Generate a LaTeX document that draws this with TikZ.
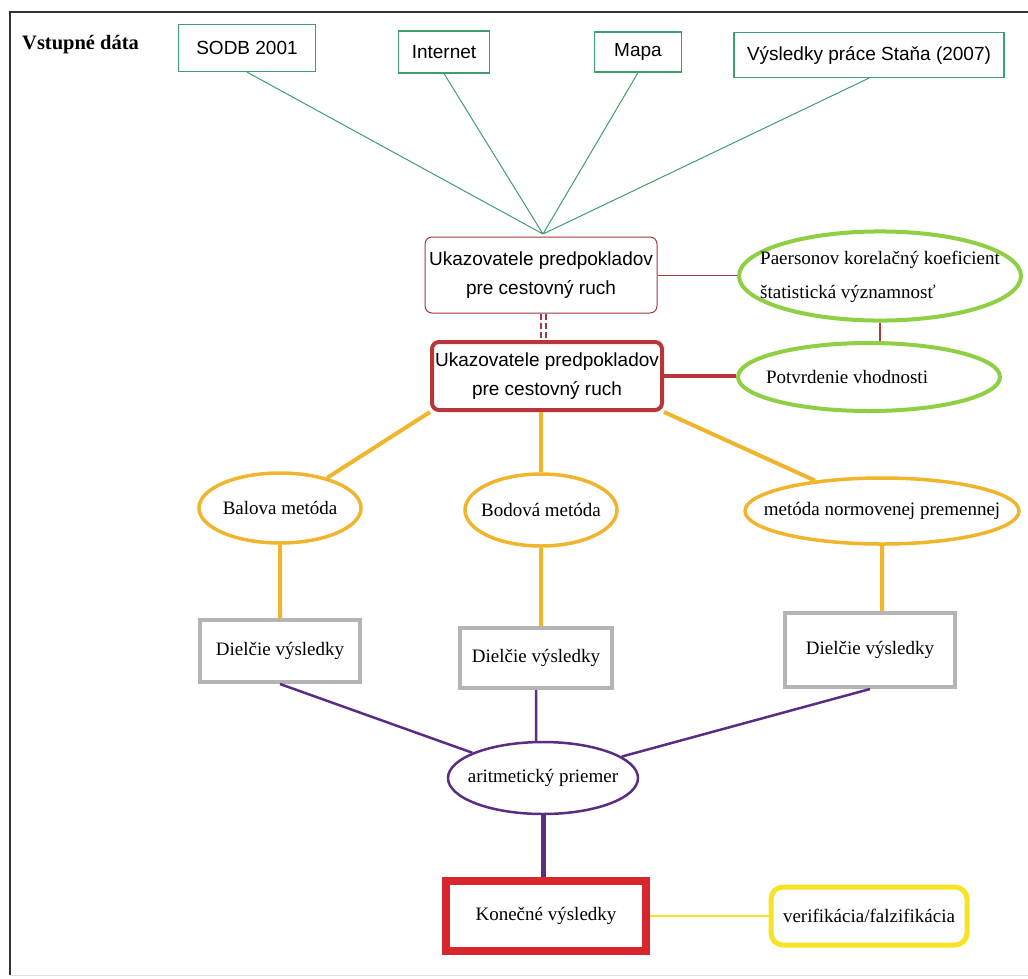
\documentclass[tikz,border=0pt]{standalone}
\usepackage{fontspec}
\setmainfont{Liberation Serif}
\setsansfont{Liberation Sans}
\usepackage{tikz}
\usetikzlibrary{shapes.geometric}
\definecolor{green600}{HTML}{3F9F6B}
\definecolor{red800}{HTML}{A23A3E}
\definecolor{red700}{HTML}{B8353A}
\definecolor{lime400}{HTML}{8FCF44}
\definecolor{amber500}{HTML}{F0B52C}
\definecolor{gray400}{HTML}{B4B4B4}
\definecolor{purple800}{HTML}{5A2D82}
\definecolor{red600}{HTML}{D8262E}
\definecolor{yellow500}{HTML}{F6E424}
\newcommand{\pismo}{\fontsize{19}{29}\selectfont}
\newcommand{\uzky}[1]{\makebox[0pt]{#1}}
\tikzstyle{zdroj}=[draw=green600, line width=1.2pt, font=\sffamily\pismo, inner sep=0pt]
\tikzstyle{ukaz}=[rounded corners=7pt, align=center, font=\sffamily\pismo, inner sep=0pt]
\tikzstyle{ovalzel}=[ellipse, draw=lime400, line width=4pt, font=\pismo, inner sep=0pt]
\tikzstyle{metoda}=[ellipse, draw=amber500, line width=3.5pt, font=\pismo, inner sep=0pt]
\tikzstyle{dielcie}=[draw=gray400, line width=4pt, font=\pismo, inner sep=0pt]

\begin{document}
\begin{tikzpicture}[x=1pt,y=-1pt]
			\useasboundingbox (0,0) rectangle (1028,978);
			% ramik
			\draw[line width=1.5pt, black!80] (10,975) -- (10,12) -- (1028,12);
			\draw[line width=1pt, black!12] (10,975) -- (1028,975);
			% vstupne data
			\node[anchor=west, font=\bfseries\fontsize{20.5}{24}\selectfont, inner sep=0pt] (vstup) at (22,45) {Vstupné dáta};
			\node[zdroj, minimum width=137pt, minimum height=47pt] (sodb) at (247,48) {SODB 2001};
			\node[zdroj, minimum width=91pt, minimum height=42pt] (internet) at (444,52) {Internet};
			\node[zdroj, minimum width=87pt, minimum height=40pt] (mapa) at (638,52) {Mapa};
			\node[zdroj, minimum width=270pt, minimum height=45pt] (stano) at (869,55) {Výsledky práce Staňa (2007)};
			\coordinate (stred) at (543,234);
			% ukazovatele
			\node[ukaz, draw=red800, line width=1pt, minimum width=232pt, minimum height=76pt] (ukaz1) at (541,275) {Ukazovatele predpokladov\\pre cestovný ruch};
			\node[ukaz, draw=red700, line width=4pt, minimum width=230pt, minimum height=68pt] (ukaz2) at (547,376) {Ukazovatele predpokladov\\pre cestovný ruch};
			\node[ovalzel, minimum width=282pt, minimum height=80pt] (pears) at (880,276) {\uzky{\begin{tabular}{@{}l@{}}Paersonov korelačný koeficient\\[5pt] štatistická významnosť\end{tabular}}};
			\node[ovalzel, minimum width=262pt, minimum height=68pt] (potv) at (869,377) {\uzky{\hspace*{-44pt}Potvrdenie vhodnosti}};
			% metody
			\node[metoda, minimum width=162pt, minimum height=70pt] (balova) at (280,508) {\uzky{Balova metóda}};
			\node[metoda, minimum width=152pt, minimum height=72pt] (bodova) at (541,510) {\uzky{Bodová metóda}};
			\node[metoda, minimum width=274pt, minimum height=66pt] (norm) at (882,511) {\uzky{metóda normovenej premennej}};
			\node[dielcie, minimum width=160pt, minimum height=62pt] (diel1) at (280,651) {Dielčie výsledky};
			\node[dielcie, minimum width=152pt, minimum height=60pt] (diel2) at (536,658) {Dielčie výsledky};
			\node[dielcie, minimum width=170pt, minimum height=74pt] (diel3) at (870,650) {Dielčie výsledky};
			% vysledok
			\node[ellipse, draw=purple800, line width=2.5pt, font=\pismo, inner sep=0pt, minimum width=190pt, minimum height=72pt] (arit) at (543,778) {\uzky{aritmetický priemer}};
			\node[draw=red600, line width=8pt, font=\pismo, inner sep=0pt, minimum width=200pt, minimum height=70pt] (konecne) at (546,916) {Konečné výsledky};
			\node[draw=yellow500, line width=5pt, rounded corners=12pt, font=\pismo, inner sep=0pt, minimum width=196pt, minimum height=58pt] (verif) at (869,916) {verifikácia/falzifikácia};
			% spojnice
			\path[draw=green600, line width=1pt]
				(sodb.south)--(stred) (internet.south)--(stred)
				(mapa.south)--(stred) (stano.south)--(stred);
			\path[draw=red800, line width=1.3pt, dash pattern=on 6pt off 3pt]
				([xshift=0pt]ukaz1.south)--([xshift=0pt]ukaz1.south |- ukaz2.north)
				([xshift=5pt]ukaz1.south)--([xshift=5pt]ukaz1.south |- ukaz2.north);
			\draw[red800, line width=1pt] (ukaz1.east) -- (ukaz1.east -| pears.west);
			\draw[red700, line width=2.5pt] (pears.south) -- (pears.south |- potv.north);
			\draw[red700, line width=4pt] (ukaz2.east) -- (ukaz2.east -| potv.west);
			\path[draw=amber500, line width=4pt]
				(ukaz2.south west)--(balova)
				(bodova.north |- ukaz2.south)--(bodova.north)
				(ukaz2.south east)--(norm)
				(balova.south)--(balova.south |- diel1.north)
				(bodova.south)--(bodova.south |- diel2.north)
				(norm.south)--(norm.south |- diel3.north);
			\path[draw=purple800, line width=2.5pt]
				(diel1.south)--(arit)
				(diel2.south)--(diel2.south |- arit.north)
				(diel3.south)--(arit);
			\draw[purple800, line width=5pt] (arit.south) -- (arit.south |- konecne.north);
			\draw[yellow500, line width=2pt] (konecne.east) -- (verif.west);
		\end{tikzpicture}
\end{document}
